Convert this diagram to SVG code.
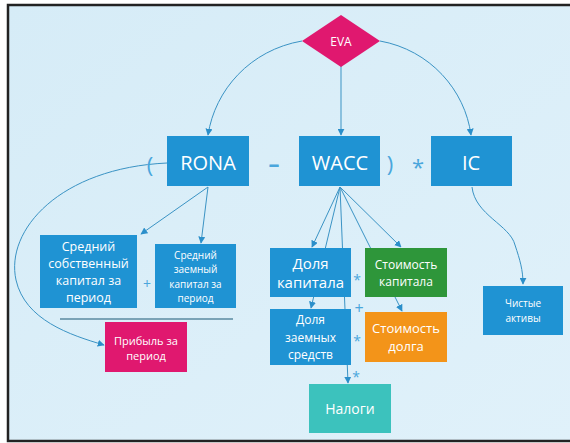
<svg xmlns="http://www.w3.org/2000/svg" width="570" height="443" viewBox="0 0 570 443">
<defs>
<linearGradient id="bg" x1="0" y1="0" x2="1" y2="1">
<stop offset="0" stop-color="#d6ecf7"/>
<stop offset="1" stop-color="#e0f1fa"/>
</linearGradient>
<marker id="ah" viewBox="0 0 10 10" refX="9" refY="5" markerWidth="7" markerHeight="7" markerUnits="userSpaceOnUse" orient="auto">
<path d="M0,0 L10,5 L0,10 z" fill="#2b8fca"/>
</marker>
<style>
.box{fill:#1f93d3}
.t{font-family:"Open Sans","Noto Sans","DejaVu Sans",sans-serif;fill:#ffffff;text-anchor:middle;dominant-baseline:central}
.op{font-family:"Open Sans","Noto Sans","DejaVu Sans",sans-serif;fill:#4aa6dc;text-anchor:middle;dominant-baseline:central}
.c{fill:none;stroke:#3a93c4;stroke-width:1}
.ca{fill:none;stroke:#3a93c4;stroke-width:1;marker-end:url(#ah)}
</style>
</defs>
<rect x="0" y="0" width="570" height="443" fill="#ffffff"/>
<rect x="8" y="5" width="570" height="436" fill="url(#bg)" stroke="#222" stroke-width="2.5"/>

<g id="connectors">
<path class="ca" d="M302,41 C250,50 215,90 208,135"/>
<path class="ca" d="M341,66 L341,135"/>
<path class="ca" d="M380,41 C430,50 465,90 471,135"/>
<path class="ca" d="M167,163 C60,168 5,230 16,280 C25,320 70,335 104,345"/>
<path class="ca" d="M208,187 L141,234"/>
<path class="ca" d="M208,187 L201,243"/>
<path class="ca" d="M472,187 C475,215 510,225 515,245 C520,260 523,270 523,284"/>
<path class="ca" d="M340,187 L312,247"/>
<path class="ca" d="M340,187 L311,308"/>
<path class="ca" d="M340,187 L348,383"/>
<path class="ca" d="M340,187 L402,311"/>
<path class="ca" d="M340,187 L401,247"/>
<line x1="60" y1="319" x2="233" y2="319" stroke="#5a8aa0" stroke-width="1.5"/>
</g>

<g id="eva">
<polygon points="341,15 380,41 341,67 302,41" fill="#e0186f"/>
<text class="t" x="341" y="41" font-size="12">EVA</text>
</g>

<g id="rona">
<rect class="box" x="167" y="136" width="82" height="50"/>
<text class="t" x="208" y="162" font-size="20">RONA</text>
</g>
<g id="wacc">
<rect class="box" x="299" y="136" width="81" height="50"/>
<text class="t" x="340" y="162" font-size="20">WACC</text>
</g>
<g id="ic">
<rect class="box" x="431" y="136" width="81" height="50"/>
<text class="t" x="471" y="162" font-size="20">IC</text>
</g>

<g id="operators">
<text class="op" x="150" y="164" font-size="22">(</text>
<text class="op" x="274" y="163" font-size="22" font-weight="bold">–</text>
<text class="op" x="390" y="163" font-size="22">)</text>
<text class="op" x="418" y="166" font-size="22">*</text>
<text class="op" x="147" y="283" font-size="14">+</text>
<text class="op" x="357" y="279" font-size="14">*</text>
<text class="op" x="359" y="308" font-size="16">+</text>
<text class="op" x="357" y="340" font-size="14">*</text>
<text class="op" x="356" y="376" font-size="14">*</text>
</g>

<g id="own-capital">
<rect class="box" x="40" y="235" width="97" height="73"/>
<text class="t" font-size="12.5"><tspan x="88.5" y="246">Средний</tspan><tspan x="88.5" y="263">собственный</tspan><tspan x="88.5" y="280">капитал за</tspan><tspan x="88.5" y="297">период</tspan></text>
</g>
<g id="debt-capital">
<rect class="box" x="155" y="244" width="81" height="64"/>
<text class="t" font-size="10"><tspan x="195.5" y="255">Средний</tspan><tspan x="195.5" y="269">заемный</tspan><tspan x="195.5" y="284">капитал за</tspan><tspan x="195.5" y="298">период</tspan></text>
</g>
<g id="profit">
<rect x="105" y="322" width="82" height="50" fill="#e0186f"/>
<text class="t" font-size="11"><tspan x="146" y="340">Прибыль за</tspan><tspan x="146" y="355">период</tspan></text>
</g>
<g id="equity-share">
<rect class="box" x="270" y="248" width="81" height="49"/>
<text class="t" font-size="15"><tspan x="310.5" y="263">Доля</tspan><tspan x="310.5" y="282">капитала</tspan></text>
</g>
<g id="equity-cost">
<rect x="365" y="248" width="82" height="49" fill="#2e963a"/>
<text class="t" font-size="12"><tspan x="406" y="264">Стоимость</tspan><tspan x="406" y="281">капитала</tspan></text>
</g>
<g id="debt-share">
<rect class="box" x="270" y="309" width="81" height="56"/>
<text class="t" font-size="12"><tspan x="310.5" y="319">Доля</tspan><tspan x="310.5" y="337">заемных</tspan><tspan x="310.5" y="354">средств</tspan></text>
</g>
<g id="debt-cost">
<rect x="365" y="312" width="82" height="50" fill="#f39419"/>
<text class="t" font-size="13"><tspan x="406" y="328">Стоимость</tspan><tspan x="406" y="346">долга</tspan></text>
</g>
<g id="taxes">
<rect x="309" y="384" width="82" height="49" fill="#3cc2bd"/>
<text class="t" x="350" y="408" font-size="14">Налоги</text>
</g>
<g id="net-assets">
<rect class="box" x="483" y="286" width="80" height="49"/>
<text class="t" font-size="10"><tspan x="523" y="303">Чистые</tspan><tspan x="523" y="318">активы</tspan></text>
</g>
</svg>
